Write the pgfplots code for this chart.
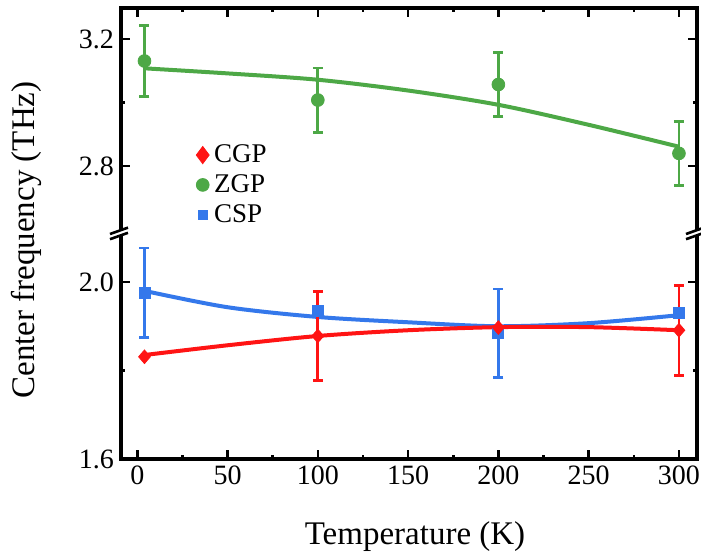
\documentclass[border=0pt]{standalone}
\usepackage{pgfplots}
\pgfplotsset{compat=1.18}
\usepackage{fontspec}
\setmainfont{Liberation Serif}
\definecolor{cgp}{RGB}{255,20,20}
\definecolor{zgp}{RGB}{77,168,70}
\definecolor{csp}{RGB}{52,120,235}
\pgfplotsset{
  brk/.style={
    scale only axis, width=288pt,
    xmin=-9, xmax=310,
    tick align=inside,
    major tick length=4.5pt, minor tick length=2.2pt,
    every tick/.style={line width=1.3pt, black},
    axis line style={line width=1.6pt, line cap=rect},
    xtick={0,50,...,300}, minor xtick={25,75,...,275},
    tick label style={font=\fontsize{14}{15}\selectfont},
    /pgf/number format/assume math mode=true,
    yticklabel style={/pgf/number format/.cd, fixed, fixed zerofill, precision=1},
    clip=false,
  },
  errs/.style={only marks, mark=none, forget plot,
    error bars/.cd, y dir=both, y explicit,
    error bar style={line width=1.4pt},
    error mark options={rotate=90, mark size=2.5pt, line width=1.4pt}},
}
\begin{document}
\begin{tikzpicture}
% ---------------- lower panel ----------------
\begin{axis}[brk, at={(0,0)}, anchor=south west, height=112.5pt,
  ymin=1.6, ymax=2.1085, ytick={1.6,2.0}, minor ytick={1.8},
  axis x line*=bottom, axis y line*=box]
% CSP
\addplot[csp, line width=2pt, smooth, no marks, forget plot] coordinates {
  (4,1.980) (50,1.943) (100,1.921) (150,1.909) (200,1.900) (250,1.907) (300,1.925)};
\addplot[csp, errs] coordinates {(4,1.976) +- (0,0.101) (200,1.884) +- (0,0.100)};
\addplot[csp, only marks, mark=square*, mark size=2.75pt, forget plot] coordinates {
  (4,1.976) (100,1.934) (200,1.884) (300,1.931)};
% CGP
\addplot[cgp, line width=2pt, smooth, no marks, forget plot] coordinates {
  (4,1.835) (50,1.857) (100,1.878) (150,1.891) (200,1.898) (250,1.898) (300,1.891)};
\addplot[cgp, errs] coordinates {(100,1.878) +- (0,0.100) (300,1.891) +- (0,0.102)};
\addplot[cgp, only marks, mark=diamond*, mark size=3.4pt, mark options={xscale=1.15}, forget plot] coordinates {
  (4,1.831) (100,1.878) (200,1.897) (300,1.891)};
\end{axis}
% ---------------- upper panel ----------------
\begin{axis}[brk, at={(0,112.5pt)}, anchor=south west, height=113pt,
  ymin=2.586, ymax=3.298, ytick={2.8,3.2}, minor ytick={3.0},
  axis x line*=top, axis y line*=box, xticklabels={},
  legend style={at={(axis description cs:0.13,0.415)}, anchor=north west,
    draw=none, fill=none, font=\fontsize{13.5}{14}\selectfont, row sep=0.5pt,
    inner sep=0pt, nodes={inner xsep=2.5pt}},
  legend cell align=left,
  legend image code/.code={\draw[#1] plot coordinates {(0.18cm,0cm)};}]
\addlegendimage{cgp, only marks, mark=diamond*, mark size=4.3pt}
\addlegendentry{CGP}
\addlegendimage{zgp, only marks, mark=*, mark size=3.2pt}
\addlegendentry{ZGP}
\addlegendimage{csp, only marks, mark=square*, mark size=2.3pt}
\addlegendentry{CSP}
% ZGP
\addplot[zgp, line width=2pt, smooth, no marks, forget plot] coordinates {
  (4,3.108) (50,3.092) (100,3.072) (150,3.038) (200,2.993) (250,2.930) (300,2.861)};
\addplot[zgp, errs] coordinates {(4,3.131) +- (0,0.112) (100,3.008) +- (0,0.101)
  (200,3.057) +- (0,0.101) (300,2.840) +- (0,0.101)};
\addplot[zgp, only marks, mark=*, mark size=3.2pt, forget plot] coordinates {
  (4,3.131) (100,3.008) (200,3.057) (300,2.840)};
\end{axis}
% ---------------- axis breaks ----------------
\foreach \xx in {0pt,288pt} {
  \fill[white] (\xx-2pt,111.6pt) -- (\xx+2pt,113.0pt) -- (\xx+2pt,115.4pt) -- (\xx-2pt,114.0pt) -- cycle;
  \draw[line width=1.3pt] (\xx-5.5pt,109.9pt) -- (\xx+3.5pt,113.1pt);
  \draw[line width=1.3pt] (\xx-5.5pt,112.5pt) -- (\xx+3.5pt,115.7pt);
}
% ---------------- labels ----------------
\node[rotate=90, font=\fontsize{16.5}{17}\selectfont] at (-47.5pt,109.5pt) {Center frequency (THz)};
\node[font=\fontsize{16.5}{17}\selectfont] at (147pt,-39pt) {Temperature (K)};
\pgfresetboundingbox
\path (-60.5pt,-50pt) rectangle (290pt,229.5pt);
\end{tikzpicture}
\end{document}
